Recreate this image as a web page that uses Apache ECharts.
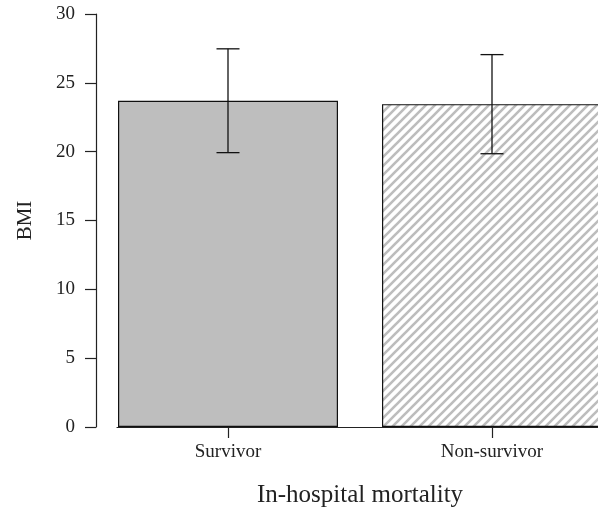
<!DOCTYPE html>
<html>
<head>
<meta charset="utf-8">
<script src="https://cdn.jsdelivr.net/npm/echarts@6/dist/echarts.min.js"></script>
<style>html,body{margin:0;padding:0;background:#fff;}#c{width:598px;height:511px;}</style>
</head>
<body>
<div id="c"></div>
<script>
var categories = ['Survivor', 'Non-survivor'];
var bmiMean = [23.7, 23.45];
var bmiSd = [3.77, 3.6];
var yTicks = [0, 5, 10, 15, 20, 25, 30];

function hatch() {
  var s = 9;
  var cv = document.createElement('canvas');
  cv.width = s; cv.height = s;
  var g = cv.getContext('2d');
  g.fillStyle = '#fff';
  g.fillRect(0, 0, s, s);
  g.strokeStyle = '#bdbdbd';
  g.lineWidth = 2.6;
  g.beginPath();
  for (var k = -1; k <= 1; k++) {
    g.moveTo(k * s - 1, s + 1);
    g.lineTo(k * s + s + 1, -1);
  }
  g.stroke();
  return cv;
}

var FONT = 'Liberation Serif';
var chart = echarts.init(document.getElementById('c'), null, {renderer: 'canvas'});
var errData = categories.map(function (c, i) {
  return [i, bmiMean[i] - bmiSd[i], bmiMean[i] + bmiSd[i]];
});
chart.setOption({
  animation: false,
  backgroundColor: '#fff',
  grid: [
    {left: 96, right: -26, top: 14, bottom: 84, containLabel: false, outerBoundsMode: 'none'},
    {left: 117, right: 0, top: 14, bottom: 84, containLabel: false, outerBoundsMode: 'none'}
  ],
  xAxis: [{
    type: 'category',
    data: categories,
    gridIndex: 0,
    axisLine: {show: false},
    axisTick: {show: true, alignWithLabel: true, length: 11, lineStyle: {color: '#222', width: 1.2}},
    axisLabel: {color: '#222', fontFamily: FONT, fontSize: 19, margin: 16},
    name: 'In-hospital mortality',
    nameLocation: 'middle',
    nameGap: 56,
    nameTextStyle: {color: '#222', fontFamily: FONT, fontSize: 25}
  }, {
    type: 'value',
    gridIndex: 1,
    min: 0, max: 1,
    axisLine: {show: true, lineStyle: {color: '#222', width: 1.2}},
    axisTick: {show: false},
    axisLabel: {show: false},
    splitLine: {show: false}
  }],
  yAxis: [{
    type: 'value',
    gridIndex: 0,
    min: yTicks[0],
    max: yTicks[yTicks.length - 1],
    interval: 5,
    axisLine: {show: true, lineStyle: {color: '#222', width: 1.2}},
    axisTick: {show: true, length: 11, lineStyle: {color: '#222', width: 1.2}},
    axisLabel: {color: '#222', fontFamily: FONT, fontSize: 19, margin: 21},
    splitLine: {show: false},
    name: 'BMI',
    nameLocation: 'middle',
    nameGap: 60,
    nameTextStyle: {color: '#222', fontFamily: FONT, fontSize: 21}
  }, {
    type: 'value', gridIndex: 1, show: false, min: 0, max: 1
  }],
  series: [{
    type: 'bar',
    xAxisIndex: 0, yAxisIndex: 0,
    barWidth: 220,
    data: bmiMean.map(function (v, i) {
      return {
        value: v,
        itemStyle: {
          color: i === 0 ? '#bebebe' : {image: hatch(), repeat: 'repeat'},
          borderColor: '#111',
          borderWidth: 1.2
        }
      };
    })
  }, {
    type: 'custom',
    xAxisIndex: 0, yAxisIndex: 0,
    data: errData,
    z: 10,
    renderItem: function (params, api) {
      var x = api.value(0);
      var lo = api.coord([x, api.value(1)]);
      var hi = api.coord([x, api.value(2)]);
      var hw = 11.5;
      var st = {stroke: '#111', lineWidth: 1.3};
      return {
        type: 'group',
        children: [
          {type: 'line', shape: {x1: lo[0], y1: lo[1], x2: hi[0], y2: hi[1]}, style: st},
          {type: 'line', shape: {x1: lo[0] - hw, y1: lo[1], x2: lo[0] + hw, y2: lo[1]}, style: st},
          {type: 'line', shape: {x1: hi[0] - hw, y1: hi[1], x2: hi[0] + hw, y2: hi[1]}, style: st}
        ]
      };
    }
  }]
});
</script>
</body>
</html>
